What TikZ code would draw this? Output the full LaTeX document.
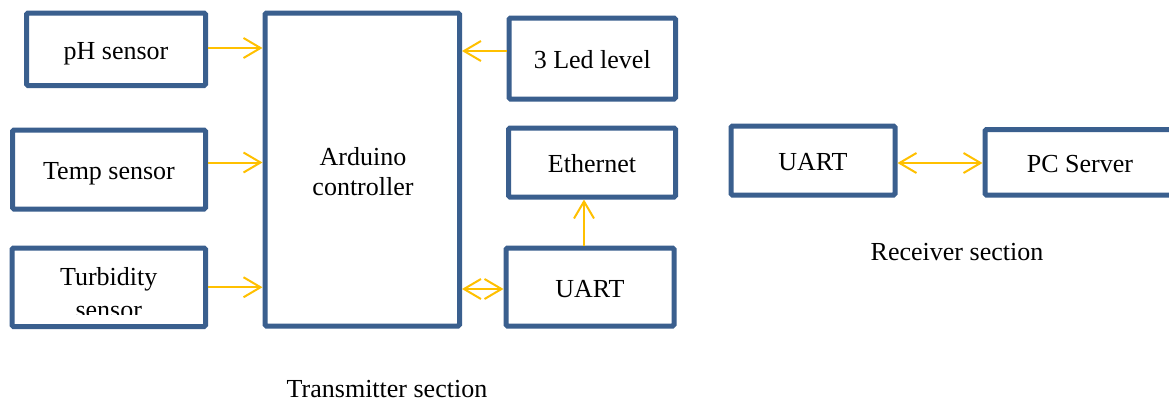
\documentclass[tikz,border=0pt]{standalone}
\usepackage{fontspec}
\setmainfont{Liberation Serif}
\usetikzlibrary{arrows.meta}
\definecolor{boxblue}{HTML}{3A5F8E}
\definecolor{arrowyellow}{HTML}{FFC000}
\newcommand\diagfont{\fontsize{26}{30}\selectfont}
\tikzset{
  blockbox/.style={draw=boxblue, line width=5pt, rounded corners=1.5pt, fill=white,
    inner sep=0pt, font=\diagfont, align=center, text height=20pt, text depth=0pt},
  plaintext/.style={font=\diagfont, inner sep=0pt},
  arr/.style={draw=arrowyellow, line width=2pt, -{Straight Barb[length=17pt,width=20pt]}},
  darr/.style={draw=arrowyellow, line width=2pt, {Straight Barb[length=17pt,width=20pt]}-{Straight Barb[length=17pt,width=20pt]}}
}
\begin{document}
\begin{tikzpicture}[x=1pt,y=-1pt]
\clip (0,0) rectangle (1169,402);
\fill[white] (0,0) rectangle (1169,402);
% transmitter blocks
\node[blockbox, minimum width=179pt, minimum height=72.5pt] (ph) at (116,49.25) {pH sensor};
\node[blockbox, minimum width=193pt, minimum height=79pt] (temp) at (109,169.5) {Temp sensor};
\node[blockbox, minimum width=193.5pt, minimum height=78.5pt] (turb) at (108.75,287.25) {};
\begin{scope}
  \clip (15,250) rectangle (203,314);
  \node[plaintext, anchor=base] (turbt1) at (108.75,285) {Turbidity};
  \node[plaintext, anchor=base] (turbt2) at (108.75,318) {sensor};
\end{scope}
\node[blockbox, minimum width=194.5pt, minimum height=313pt] (ard) at (362.25,169.5) {};
\node[plaintext, anchor=base] (ardt1) at (363,165) {Arduino};
\node[plaintext, anchor=base] (ardt2) at (363,195) {controller};
\node[blockbox, minimum width=166.5pt, minimum height=81pt] (led) at (592.25,58.5) {3 Led level};
\node[blockbox, minimum width=167pt, minimum height=69pt] (eth) at (592,162.5) {Ethernet};
\node[blockbox, minimum width=168pt, minimum height=78pt] (uart) at (590,287) {UART};
% receiver blocks
\node[blockbox, minimum width=164pt, minimum height=69pt] (rx) at (813,160.5) {UART};
\node[blockbox, minimum width=190pt, minimum height=65.5pt] (pc) at (1080,162.25) {PC Server};
% section labels
\node[plaintext, anchor=base] (txlabel) at (387,397) {Transmitter section};
\node[plaintext, anchor=base] (rxlabel) at (957,260) {Receiver section};
% connectors
\coordinate (a1) at ([yshift=1.25pt]ph.east);
\draw[arr] (a1) -- (a1 -| ard.west);
\coordinate (a2) at ([yshift=7pt]temp.east);
\draw[arr] (a2) -- (a2 -| ard.west);
\draw[arr] (turb.east) -- (turb.east -| ard.west);
\coordinate (a3) at ([yshift=7.5pt]led.west);
\draw[arr] (a3) -- (a3 -| ard.east);
\coordinate (a4) at ([yshift=-2pt]uart.west);
\draw[darr] (a4 -| ard.east) -- (a4);
\coordinate (a5) at ([xshift=-6pt]uart.north);
\draw[arr] (a5) -- (a5 |- eth.south);
\coordinate (a6) at ([yshift=-2.5pt]rx.east);
\draw[darr] (a6) -- (a6 -| pc.west);
\end{tikzpicture}
\end{document}
